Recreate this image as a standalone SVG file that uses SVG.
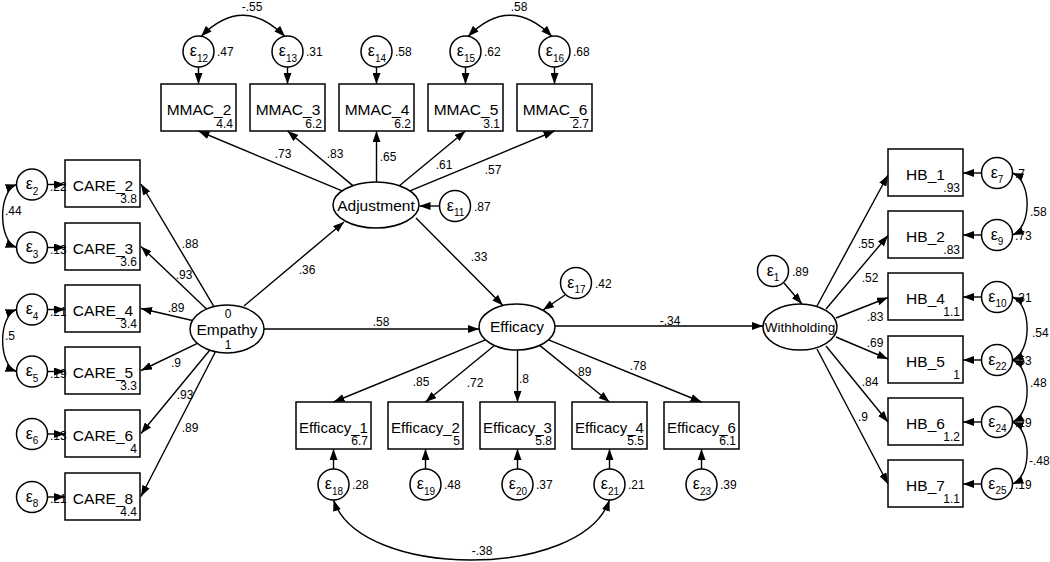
<svg xmlns="http://www.w3.org/2000/svg" width="1050" height="562" viewBox="0 0 1050 562">
<style>
text{font-family:"Liberation Sans",Arial,Helvetica,sans-serif;fill:#000}
.bx{fill:#fff;stroke:#000;stroke-width:1.5}
.el{fill:#fff;stroke:#000;stroke-width:1.5}
.ci{fill:#fff;stroke:#000;stroke-width:1.5}
.nm{font-size:15.5px;text-anchor:middle}
.nf{font-size:15px;text-anchor:middle}
.sm{font-size:12px;text-anchor:end}
.lb{font-size:12px}
.lc{font-size:12px;text-anchor:middle}
.ep{font-size:16px;text-anchor:middle}
.sb{font-size:10px}
.ln{stroke:#000;stroke-width:1.4;fill:none;marker-end:url(#ah)}
.cv{stroke:#000;stroke-width:1.4;fill:none;marker-start:url(#ah);marker-end:url(#ah)}
</style>
<defs>
<marker id="ah" viewBox="0 0 11 8" refX="11" refY="4" markerWidth="11" markerHeight="8" markerUnits="userSpaceOnUse" orient="auto-start-reverse"><path d="M0,0 L11,4 L0,8 z" fill="#000"/></marker>
</defs>

<!-- Latent variables -->
<g id="empathy"><ellipse class="el" cx="227" cy="329" rx="37" ry="24"/><text class="lc" x="228" y="318">0</text><text class="nm" x="227" y="335">Empathy</text><text class="lc" x="228" y="349">1</text></g>
<g id="adjustment"><ellipse class="el" cx="376" cy="205" rx="43" ry="23"/><text class="nm" x="376" y="210.5">Adjustment</text></g>
<g id="efficacy"><ellipse class="el" cx="517" cy="327" rx="38" ry="23"/><text class="nm" x="517" y="332">Efficacy</text></g>
<g id="withholding"><ellipse class="el" cx="800" cy="327" rx="37" ry="23"/><text class="nm" x="800" y="332" style="font-size:13.5px">Withholding</text></g>

<!-- CARE indicators -->
<g id="care2"><rect class="bx" x="65" y="160" width="75" height="47"/><text class="nm" x="103" y="191">CARE_2</text><text class="sm" x="137" y="203">3.8</text></g>
<g id="care3"><rect class="bx" x="65" y="223" width="75" height="47"/><text class="nm" x="103" y="254">CARE_3</text><text class="sm" x="137" y="266">3.6</text></g>
<g id="care4"><rect class="bx" x="65" y="285" width="75" height="47"/><text class="nm" x="103" y="316">CARE_4</text><text class="sm" x="137" y="328">3.4</text></g>
<g id="care5"><rect class="bx" x="65" y="347" width="75" height="47"/><text class="nm" x="103" y="378">CARE_5</text><text class="sm" x="137" y="390">3.3</text></g>
<g id="care6"><rect class="bx" x="65" y="410" width="75" height="47"/><text class="nm" x="103" y="441">CARE_6</text><text class="sm" x="137" y="453">4</text></g>
<g id="care8"><rect class="bx" x="65" y="473" width="75" height="47"/><text class="nm" x="103" y="504">CARE_8</text><text class="sm" x="137" y="516">4.4</text></g>

<g id="e2"><circle class="ci" cx="32" cy="184.5" r="15.5"/><text class="ep" x="32" y="189">ε<tspan class="sb" dy="5.5">2</tspan></text><text class="lb" x="50" y="190.5">.22</text></g>
<g id="e3"><circle class="ci" cx="32" cy="247.5" r="15.5"/><text class="ep" x="32" y="252">ε<tspan class="sb" dy="5.5">3</tspan></text><text class="lb" x="50" y="253.5">.13</text></g>
<g id="e4"><circle class="ci" cx="32" cy="309.5" r="15.5"/><text class="ep" x="32" y="314">ε<tspan class="sb" dy="5.5">4</tspan></text><text class="lb" x="50" y="315.5">.21</text></g>
<g id="e5"><circle class="ci" cx="32" cy="371.5" r="15.5"/><text class="ep" x="32" y="376">ε<tspan class="sb" dy="5.5">5</tspan></text><text class="lb" x="50" y="377.5">.19</text></g>
<g id="e6"><circle class="ci" cx="32" cy="434" r="15.5"/><text class="ep" x="32" y="438.5">ε<tspan class="sb" dy="5.5">6</tspan></text><text class="lb" x="50" y="440">.13</text></g>
<g id="e8"><circle class="ci" cx="32" cy="497" r="15.5"/><text class="ep" x="32" y="501.5">ε<tspan class="sb" dy="5.5">8</tspan></text><text class="lb" x="50" y="503">.21</text></g>

<!-- MMAC indicators -->
<g id="mmac2"><rect class="bx" x="161" y="84" width="75" height="47"/><text class="nm" x="199" y="115">MMAC_2</text><text class="sm" x="233" y="128">4.4</text></g>
<g id="mmac3"><rect class="bx" x="250" y="84" width="75" height="47"/><text class="nm" x="288" y="115">MMAC_3</text><text class="sm" x="322" y="128">6.2</text></g>
<g id="mmac4"><rect class="bx" x="339" y="84" width="75" height="47"/><text class="nm" x="377" y="115">MMAC_4</text><text class="sm" x="411" y="128">6.2</text></g>
<g id="mmac5"><rect class="bx" x="428" y="84" width="75" height="47"/><text class="nm" x="466" y="115">MMAC_5</text><text class="sm" x="500" y="128">3.1</text></g>
<g id="mmac6"><rect class="bx" x="517" y="84" width="75" height="47"/><text class="nm" x="555" y="115">MMAC_6</text><text class="sm" x="589" y="128">2.7</text></g>

<g id="e12"><circle class="ci" cx="198.5" cy="51.5" r="15.5"/><text class="ep" x="199" y="56">ε<tspan class="sb" dy="5.5">12</tspan></text><text class="lb" x="217" y="56">.47</text></g>
<g id="e13"><circle class="ci" cx="287.5" cy="51.5" r="15.5"/><text class="ep" x="288" y="56">ε<tspan class="sb" dy="5.5">13</tspan></text><text class="lb" x="306" y="56">.31</text></g>
<g id="e14"><circle class="ci" cx="376.5" cy="51.5" r="15.5"/><text class="ep" x="377" y="56">ε<tspan class="sb" dy="5.5">14</tspan></text><text class="lb" x="395" y="56">.58</text></g>
<g id="e15"><circle class="ci" cx="465.5" cy="51.5" r="15.5"/><text class="ep" x="466" y="56">ε<tspan class="sb" dy="5.5">15</tspan></text><text class="lb" x="484" y="56">.62</text></g>
<g id="e16"><circle class="ci" cx="554.5" cy="51.5" r="15.5"/><text class="ep" x="555" y="56">ε<tspan class="sb" dy="5.5">16</tspan></text><text class="lb" x="573" y="56">.68</text></g>

<g id="e11"><circle class="ci" cx="455" cy="206" r="15.5"/><text class="ep" x="455.5" y="210.5">ε<tspan class="sb" dy="5.5">11</tspan></text><text class="lb" x="474" y="211">.87</text></g>
<g id="e17"><circle class="ci" cx="576" cy="283" r="15.5"/><text class="ep" x="576.5" y="287.5">ε<tspan class="sb" dy="5.5">17</tspan></text><text class="lb" x="595" y="288">.42</text></g>
<g id="e1"><circle class="ci" cx="773" cy="271" r="15.5"/><text class="ep" x="773" y="275.5">ε<tspan class="sb" dy="5.5">1</tspan></text><text class="lb" x="792" y="276">.89</text></g>

<!-- Efficacy indicators -->
<g id="eff1"><rect class="bx" x="296" y="402" width="75" height="47"/><text class="nf" x="333.5" y="433">Efficacy_1</text><text class="sm" x="368" y="445">6.7</text></g>
<g id="eff2"><rect class="bx" x="388" y="402" width="75" height="47"/><text class="nf" x="425.5" y="433">Efficacy_2</text><text class="sm" x="460" y="445">5</text></g>
<g id="eff3"><rect class="bx" x="480" y="402" width="75" height="47"/><text class="nf" x="517.5" y="433">Efficacy_3</text><text class="sm" x="552" y="445">5.8</text></g>
<g id="eff4"><rect class="bx" x="572" y="402" width="75" height="47"/><text class="nf" x="609.5" y="433">Efficacy_4</text><text class="sm" x="644" y="445">5.5</text></g>
<g id="eff6"><rect class="bx" x="664" y="402" width="75" height="47"/><text class="nf" x="701.5" y="433">Efficacy_6</text><text class="sm" x="736" y="445">6.1</text></g>

<g id="e18"><circle class="ci" cx="333.5" cy="484.5" r="15.5"/><text class="ep" x="334" y="489">ε<tspan class="sb" dy="5.5">18</tspan></text><text class="lb" x="352" y="489">.28</text></g>
<g id="e19"><circle class="ci" cx="425.5" cy="484.5" r="15.5"/><text class="ep" x="426" y="489">ε<tspan class="sb" dy="5.5">19</tspan></text><text class="lb" x="444" y="489">.48</text></g>
<g id="e20"><circle class="ci" cx="517.5" cy="484.5" r="15.5"/><text class="ep" x="518" y="489">ε<tspan class="sb" dy="5.5">20</tspan></text><text class="lb" x="536" y="489">.37</text></g>
<g id="e21"><circle class="ci" cx="609.5" cy="484.5" r="15.5"/><text class="ep" x="610" y="489">ε<tspan class="sb" dy="5.5">21</tspan></text><text class="lb" x="628" y="489">.21</text></g>
<g id="e23"><circle class="ci" cx="701.5" cy="484.5" r="15.5"/><text class="ep" x="702" y="489">ε<tspan class="sb" dy="5.5">23</tspan></text><text class="lb" x="720" y="489">.39</text></g>

<!-- HB indicators -->
<g id="hb1"><rect class="bx" x="888" y="149" width="75" height="47"/><text class="nm" x="925.5" y="180">HB_1</text><text class="sm" x="960" y="192">.93</text></g>
<g id="hb2"><rect class="bx" x="888" y="211" width="75" height="47"/><text class="nm" x="925.5" y="242">HB_2</text><text class="sm" x="960" y="254">.83</text></g>
<g id="hb4"><rect class="bx" x="888" y="273" width="75" height="47"/><text class="nm" x="925.5" y="304">HB_4</text><text class="sm" x="960" y="316">1.1</text></g>
<g id="hb5"><rect class="bx" x="888" y="336" width="75" height="47"/><text class="nm" x="925.5" y="367">HB_5</text><text class="sm" x="960" y="379">1</text></g>
<g id="hb6"><rect class="bx" x="888" y="398" width="75" height="47"/><text class="nm" x="925.5" y="429">HB_6</text><text class="sm" x="960" y="441">1.2</text></g>
<g id="hb7"><rect class="bx" x="888" y="460" width="75" height="47"/><text class="nm" x="925.5" y="491">HB_7</text><text class="sm" x="960" y="503">1.1</text></g>

<g id="e7"><circle class="ci" cx="997" cy="173" r="15.5"/><text class="ep" x="997" y="177.5">ε<tspan class="sb" dy="5.5">7</tspan></text><text class="lb" x="1015" y="177.5">.7</text></g>
<g id="e9"><circle class="ci" cx="997" cy="235" r="15.5"/><text class="ep" x="997" y="239.5">ε<tspan class="sb" dy="5.5">9</tspan></text><text class="lb" x="1015" y="239.5">.73</text></g>
<g id="e10"><circle class="ci" cx="997" cy="297" r="15.5"/><text class="ep" x="997.5" y="301.5">ε<tspan class="sb" dy="5.5">10</tspan></text><text class="lb" x="1015" y="301.5">.31</text></g>
<g id="e22"><circle class="ci" cx="997" cy="360" r="15.5"/><text class="ep" x="997.5" y="364.5">ε<tspan class="sb" dy="5.5">22</tspan></text><text class="lb" x="1015" y="364.5">.53</text></g>
<g id="e24"><circle class="ci" cx="997" cy="422" r="15.5"/><text class="ep" x="997.5" y="426.5">ε<tspan class="sb" dy="5.5">24</tspan></text><text class="lb" x="1015" y="426.5">.29</text></g>
<g id="e25"><circle class="ci" cx="997" cy="484" r="15.5"/><text class="ep" x="997.5" y="488.5">ε<tspan class="sb" dy="5.5">25</tspan></text><text class="lb" x="1015" y="488.5">.19</text></g>

<!-- Connectors -->
<g id="connectors">
<line class="ln" x1="214" y1="306.6" x2="141" y2="184"/>
<line class="ln" x1="206.5" y1="309" x2="141" y2="246.5"/>
<line class="ln" x1="192.4" y1="320.5" x2="141" y2="308.5"/>
<line class="ln" x1="197.4" y1="343.4" x2="141" y2="370.5"/>
<line class="ln" x1="209.7" y1="350.2" x2="141" y2="433.5"/>
<line class="ln" x1="215.4" y1="351.8" x2="141" y2="496.5"/>
<text class="lc" x="190" y="248">.88</text>
<text class="lc" x="184" y="279">.93</text>
<text class="lc" x="176" y="312">.89</text>
<text class="lc" x="176" y="367">.9</text>
<text class="lc" x="185" y="399">.93</text>
<text class="lc" x="190" y="432">.89</text>

<line class="ln" x1="47.5" y1="184.5" x2="65" y2="184.5"/>
<line class="ln" x1="47.5" y1="247.5" x2="65" y2="247.5"/>
<line class="ln" x1="47.5" y1="309.5" x2="65" y2="309.5"/>
<line class="ln" x1="47.5" y1="371.5" x2="65" y2="371.5"/>
<line class="ln" x1="47.5" y1="434" x2="65" y2="434"/>
<line class="ln" x1="47.5" y1="497" x2="65" y2="497"/>
<path class="cv" d="M16.5,184.5 C-2,191 -2,241 16.5,247.5"/>
<text class="lb" x="5" y="215">.44</text>
<path class="cv" d="M16.5,309.5 C-2,316 -2,365 16.5,371.5"/>
<text class="lb" x="5" y="340">.5</text>

<line class="ln" x1="244" y1="306" x2="344" y2="222"/>
<text class="lc" x="307" y="274">.36</text>
<line class="ln" x1="264" y1="329" x2="479" y2="329"/>
<text class="lc" x="381" y="326">.58</text>

<line class="ln" x1="342.1" y1="190.9" x2="198.5" y2="131"/>
<line class="ln" x1="352.8" y1="185.6" x2="287.5" y2="131"/>
<line class="ln" x1="376.5" y1="182" x2="376.5" y2="131"/>
<line class="ln" x1="399.4" y1="185.7" x2="465.5" y2="131"/>
<line class="ln" x1="410" y1="190.9" x2="554.5" y2="131"/>
<text class="lc" x="283" y="158">.73</text>
<text class="lc" x="335" y="158">.83</text>
<text class="lc" x="388" y="161">.65</text>
<text class="lc" x="444" y="169">.61</text>
<text class="lc" x="493" y="174">.57</text>

<line class="ln" x1="198.5" y1="67" x2="198.5" y2="84"/>
<line class="ln" x1="287.5" y1="67" x2="287.5" y2="84"/>
<line class="ln" x1="376.5" y1="67" x2="376.5" y2="84"/>
<line class="ln" x1="465.5" y1="67" x2="465.5" y2="84"/>
<line class="ln" x1="554.5" y1="67" x2="554.5" y2="84"/>
<path class="cv" d="M201,36.5 Q243,-6 285,36.5"/>
<text class="lc" x="252" y="11">-.55</text>
<path class="cv" d="M468,36.5 Q510,-6 552,36.5"/>
<text class="lc" x="519" y="11">.58</text>

<line class="ln" x1="439.5" y1="206" x2="419.5" y2="206"/>
<line class="ln" x1="416" y1="218" x2="503" y2="305.5"/>
<text class="lc" x="479" y="261">.33</text>
<line class="ln" x1="565" y1="295" x2="543" y2="310"/>

<line class="ln" x1="485.5" y1="339.9" x2="333.5" y2="402"/>
<line class="ln" x1="494.4" y1="345.5" x2="425.5" y2="402"/>
<line class="ln" x1="517.5" y1="350" x2="517.5" y2="402"/>
<line class="ln" x1="539.7" y1="345.4" x2="609.5" y2="402"/>
<line class="ln" x1="548.5" y1="339.8" x2="701.5" y2="402"/>
<text class="lc" x="421" y="386">.85</text>
<text class="lc" x="475" y="387">.72</text>
<text class="lc" x="524" y="383">.8</text>
<text class="lc" x="583" y="376">.89</text>
<text class="lc" x="638" y="370">.78</text>

<line class="ln" x1="333.5" y1="469" x2="333.5" y2="449"/>
<line class="ln" x1="425.5" y1="469" x2="425.5" y2="449"/>
<line class="ln" x1="517.5" y1="469" x2="517.5" y2="449"/>
<line class="ln" x1="609.5" y1="469" x2="609.5" y2="449"/>
<line class="ln" x1="701.5" y1="469" x2="701.5" y2="449"/>
<path class="cv" d="M333.5,500 C360,580 582,580 609.5,500"/>
<text class="lc" x="482" y="555">-.38</text>

<line class="ln" x1="555" y1="326" x2="763" y2="326"/>
<text class="lc" x="670" y="325">-.34</text>
<line class="ln" x1="784" y1="283" x2="802" y2="304"/>

<line class="ln" x1="817" y1="306" x2="888" y2="175"/>
<line class="ln" x1="826" y1="309" x2="888" y2="235.5"/>
<line class="ln" x1="836" y1="318" x2="888" y2="297.5"/>
<line class="ln" x1="836" y1="337" x2="888" y2="359"/>
<line class="ln" x1="826" y1="346" x2="888" y2="422"/>
<line class="ln" x1="817" y1="349" x2="888" y2="484"/>
<text class="lc" x="866" y="248">.55</text>
<text class="lc" x="870" y="282">.52</text>
<text class="lc" x="875" y="321">.83</text>
<text class="lc" x="875" y="347">.69</text>
<text class="lc" x="870" y="386">.84</text>
<text class="lc" x="863" y="421">.9</text>

<line class="ln" x1="981.5" y1="173" x2="963" y2="173"/>
<line class="ln" x1="981.5" y1="235" x2="963" y2="235"/>
<line class="ln" x1="981.5" y1="297" x2="963" y2="297"/>
<line class="ln" x1="981.5" y1="360" x2="963" y2="360"/>
<line class="ln" x1="981.5" y1="422" x2="963" y2="422"/>
<line class="ln" x1="981.5" y1="484" x2="963" y2="484"/>
<path class="cv" d="M1012.5,173 C1032,181 1032,227 1012.5,235"/>
<text class="lb" x="1030" y="216">.58</text>
<path class="cv" d="M1012.5,297 C1032,305 1032,352 1012.5,360"/>
<text class="lb" x="1032" y="337">.54</text>
<path class="cv" d="M1012.5,360 C1032,368 1032,414 1012.5,422"/>
<text class="lb" x="1030" y="387">.48</text>
<path class="cv" d="M1012.5,422 C1032,430 1032,476 1012.5,484"/>
<text class="lb" x="1029" y="465">-.48</text>
</g>
</svg>
